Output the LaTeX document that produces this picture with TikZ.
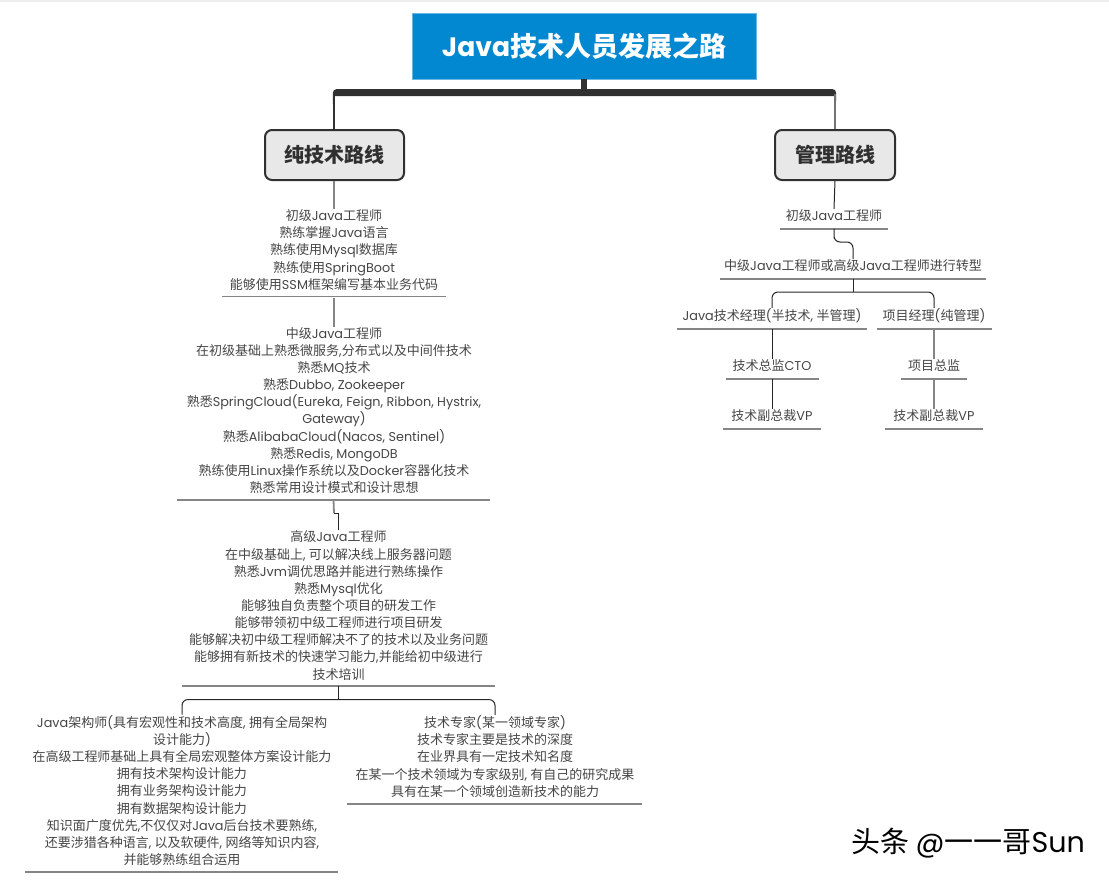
\documentclass[tikz,border=0pt]{standalone}
\usepackage{fontspec}
\setmainfont[Scale=0.985]{Poppins}
\newfontfamily\latf[Scale=0.985]{Poppins}
\newfontfamily\cjkf{Noto Sans CJK SC}
\XeTeXinterchartokenstate=1
\newcount\cjkc
\cjkc="2E80
\loop
\XeTeXcharclass\cjkc=1
\ifnum\cjkc<"9FFF \advance\cjkc by 1 \repeat
\XeTeXinterchartoks 0 1 = {\cjkf}
\XeTeXinterchartoks 1 0 = {\latf}
\XeTeXinterchartoks 4095 1 = {\cjkf}
\XeTeXinterchartoks 4095 0 = {\latf}
\definecolor{rootblue}{HTML}{0288D1}
\definecolor{txtc}{HTML}{454545}
\definecolor{ln}{HTML}{858585}
\definecolor{dk}{HTML}{303030}
\tikzset{
  x=1pt,y=-1pt,
  txt/.style={align=center,inner xsep=0pt,inner ysep=0.5pt,text=txtc,font=\fontsize{13}{17.15}\selectfont},
  uline/.style={inner sep=0pt,minimum height=1.8pt,fill=ln,draw=none},
  cnb/.style={draw=black!85,line width=1pt,rounded corners=6pt},
  cng/.style={draw=ln,line width=1.8pt,rounded corners=6pt},
  branch/.style={rounded corners=7pt,draw=dk,line width=2pt,fill=black!9,text=dk,font=\fontsize{20}{24}\selectfont\bfseries,inner sep=0pt,minimum height=50pt}
}
\begin{document}
\begin{tikzpicture}
\useasboundingbox (0,0) rectangle (1109,884);
\fill[black!7] (0,0) rectangle (1109,2);
\node[fill=rootblue,draw=rootblue!60,line width=0.6pt,text=white,inner sep=0pt,minimum width=344pt,minimum height=66pt,font=\fontsize{27}{32}\selectfont\bfseries] (root) at (584,46) {Java技术人员发展之路};
\node[branch,minimum width=139pt] (tech) at (334.5,155) {纯技术路线};
\node[branch,minimum width=120pt] (mgr) at (835,155) {管理路线};
% main connectors
\coordinate (bandA) at (332.8,104);
\coordinate (bandB) at (332.8,89);
\coordinate (bandC) at (836.2,89);
\coordinate (bandD) at (836.2,104);
\coordinate (bandE) at (835.8,96);
\coordinate (bandF) at (333.2,96);
\coordinate (rootS) at (584,95);
\draw[dk,line width=5.5pt] (root.south) -- (rootS);
\fill[dk] [rounded corners=4pt] (bandA) -- (bandB) -- (bandC) -- (bandD) [rounded corners=0pt] -- (bandE) -- (bandF) -- cycle;
\coordinate (tl) at (334,94);
\coordinate (tr) at (835,94);
\draw[dk,line width=2.4pt] (tl) -- (tl |- tech.north);
\draw[black!55,line width=2pt] (tr) -- (tr |- mgr.north);
% left column
\node[txt] (a1) at (334,250) {初级Java工程师\\熟练掌握Java语言\\熟练使用Mysql数据库\\熟练使用SpringBoot\\能够使用SSM框架编写基本业务代码};
\node[uline,minimum width=224pt] (u1) at (334,296.5) {};
\node[txt] (a2) at (334,410.5) {中级Java工程师\\在初级基础上熟悉微服务,分布式以及中间件技术\\熟悉MQ技术\\熟悉Dubbo, Zookeeper\\熟悉SpringCloud(Eureka, Feign, Ribbon, Hystrix,\\Gateway)\\熟悉AlibabaCloud(Nacos, Sentinel)\\熟悉Redis, MongoDB\\熟练使用Linux操作系统以及Docker容器化技术\\熟悉常用设计模式和设计思想};
\node[uline,minimum width=313pt] (u2) at (333.5,500) {};
\node[txt] (a3) at (338.5,605.5) {高级Java工程师\\在中级基础上, 可以解决线上服务器问题\\熟悉Jvm调优思路并能进行熟练操作\\熟悉Mysql优化\\能够独自负责整个项目的研发工作\\能够带领初中级工程师进行项目研发\\能够解决初中级工程师解决不了的技术以及业务问题\\能够拥有新技术的快速学习能力,并能给初中级进行\\技术培训};
\node[uline,minimum width=313pt] (u3) at (338.5,686) {};
\node[txt] (a4) at (182,790.5) {Java架构师(具有宏观性和技术高度, 拥有全局架构\\设计能力)\\在高级工程师基础上具有全局宏观整体方案设计能力\\拥有技术架构设计能力\\拥有业务架构设计能力\\拥有数据架构设计能力\\知识面广度优先,不仅仅对Java后台技术要熟练,\\还要涉猎各种语言, 以及软硬件, 网络等知识内容,\\并能够熟练组合运用};
\node[uline,minimum width=313pt] (u4) at (181.5,872) {};
\node[txt] (a5) at (495,756.5) {技术专家(某一领域专家)\\技术专家主要是技术的深度\\在业界具有一定技术知名度\\在某一个技术领域为专家级别, 有自己的研究成果\\具有在某一个领域创造新技术的能力};
\node[uline,minimum width=295pt] (u5) at (494.5,804) {};
\coordinate (j2) at (334,513);
\coordinate (s3) at (338.5,699.5);
\draw[cng] (tech.south -| a1) -- (a1.north);
\draw[cng] (u1) -- (u1 |- a2.north);
\draw[cng,rounded corners=0pt] (u2.center) -- (j2);
\draw[cnb,rounded corners=0pt] (j2) -| (a3.north);
\draw[cnb,rounded corners=0pt] (u3.center) -- (s3);
\draw[cnb] (a4.north) |- (s3) -| (a5.north);
% right column
\node[txt] (b1) at (834,215.7) {初级Java工程师};
\node[uline,minimum width=108pt] (v1) at (834,228.7) {};
\node[txt] (b2) at (853,265.7) {中级Java工程师或高级Java工程师进行转型};
\node[uline,minimum width=266pt] (v2) at (853,279) {};
\node[txt] (b3) at (772,315.7) {Java技术经理(半技术, 半管理)};
\node[uline,minimum width=190pt] (v3) at (772,329) {};
\node[txt] (b4) at (934,315.7) {项目经理(纯管理)};
\node[uline,minimum width=115pt] (v4) at (934,329) {};
\node[txt] (b5) at (772,365.7) {技术总监CTO};
\node[uline,minimum width=93pt] (v5) at (772.5,379) {};
\node[txt] (b6) at (934,365.7) {项目总监};
\node[uline,minimum width=66pt] (v6) at (934,379) {};
\node[txt] (b7) at (772,415.7) {技术副总裁VP};
\node[uline,minimum width=98pt] (v7) at (772,429) {};
\node[txt] (b8) at (934,415.7) {技术副总裁VP};
\node[uline,minimum width=98pt] (v8) at (934,429) {};
\coordinate (j1) at (834,242);
\coordinate (s2) at (853,292);
\draw[cnb] (mgr.south) -- (b1.north);
\draw[cnb] (v1.center) |- (j1) -| (b2.north);
\draw[cnb,rounded corners=0pt] (v2.center) -- (s2);
\draw[cnb] (b3.north) |- (s2) -| (b4.north);
\draw[cnb] (v3.center) -- (b5.north);
\draw[cng] (v4.center) -- (b6.north);
\draw[cnb] (v5.center) -- (v5 |- b7.north);
\draw[cng] (v6.center) -- (b8.north);
% watermark
\node[inner sep=0pt,text=black,font=\fontsize{29}{33}\selectfont] (wm) at (968,843) {头条 @一一哥Sun};
\end{tikzpicture}
\end{document}
